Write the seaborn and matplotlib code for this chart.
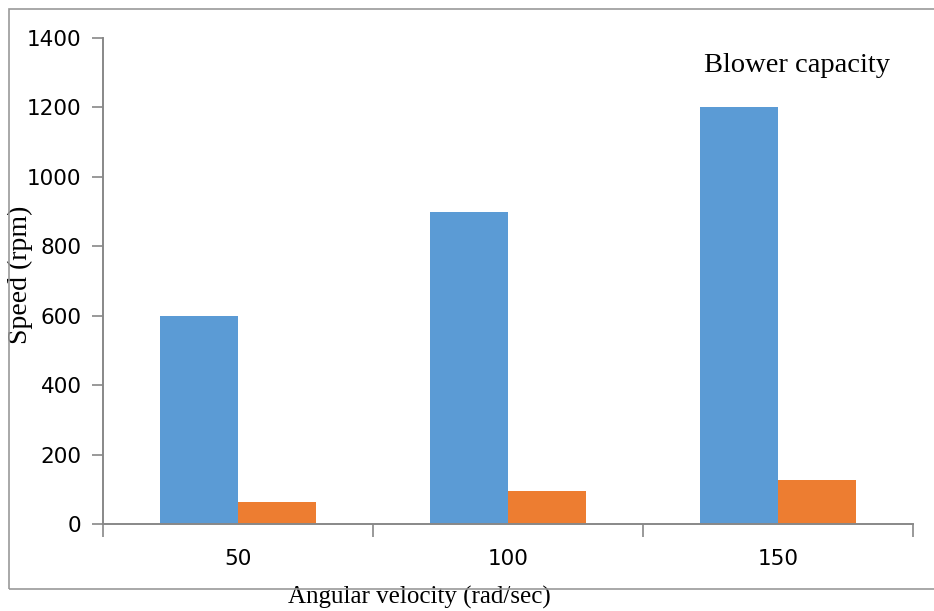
import pandas as pd
import seaborn as sns
import matplotlib.pyplot as plt
from matplotlib.patches import Rectangle

# values
velocity = ['50', '100', '150']
speed_a = [600, 900, 1200]
speed_b = [63, 94, 126]
y_ticks = [0, 200, 400, 600, 800, 1000, 1200, 1400]

df = pd.DataFrame({
    'velocity': velocity * 2,
    'speed': speed_a + speed_b,
    'series': ['a'] * 3 + ['b'] * 3,
})

sns.set_style('white')
plt.rcParams['font.family'] = ['DejaVu Sans']
plt.rcParams['text.color'] = 'black'
plt.rcParams['axes.labelcolor'] = 'black'
plt.rcParams['xtick.labelcolor'] = 'black'
plt.rcParams['ytick.labelcolor'] = 'black'

fig = plt.figure(figsize=(9.34, 6.11), dpi=100)
ax = fig.add_axes([0.1103, 0.1424, 0.8672, 0.7954])

sns.barplot(data=df, x='velocity', y='speed', hue='series', order=velocity,
            palette=['#5B9BD5', '#ED7D31'], width=0.575, gap=0, saturation=1,
            linewidth=0, legend=False, ax=ax)

axis_grey = '#888888'
ax.set_xlim(-0.5, 2.5)
ax.set_ylim(0, 1400)
ax.set_yticks(y_ticks)
ax.tick_params(axis='y', length=8, width=1.2, color=axis_grey, pad=7.5,
               labelsize=15.5, labelcolor='black', direction='out', left=True)
ax.set_xticks(range(len(velocity)))
ax.set_xticklabels(velocity)
ax.set_xticks([-0.5, 0.5, 1.5, 2.5], minor=True)
ax.tick_params(axis='x', which='major', length=0, pad=18, labelsize=15.5,
               labelcolor='black')
ax.tick_params(axis='x', which='minor', length=9, width=1.2, color=axis_grey,
               direction='out', bottom=True)

for side in ['top', 'right']:
    ax.spines[side].set_visible(False)
for side in ['left', 'bottom']:
    ax.spines[side].set_color(axis_grey)
    ax.spines[side].set_linewidth(1.4)

serif = ['Liberation Serif', 'DejaVu Serif']
ax.set_ylabel('Speed (rpm)', family=serif, fontsize=20, va='center', color='black')
ax.yaxis.set_label_coords(-0.1025, 0.512)
ax.set_xlabel('Angular velocity (rad/sec)', family=serif, fontsize=18, va='center',
              color='black')
ax.xaxis.set_label_coords(0.391, -0.152)

ax.text(0.742, 0.930, 'Blower capacity', transform=ax.transAxes,
        family=serif, fontsize=20.5, ha='left', va='baseline', color='black')

# outer chart border (right edge runs off the picture)
fig.add_artist(Rectangle((9 / 934, 1 - 589 / 611), 1.0, 580 / 611,
                         transform=fig.transFigure, fill=False,
                         edgecolor='#999999', linewidth=1.2))

fig.savefig('out.png', dpi=100)
